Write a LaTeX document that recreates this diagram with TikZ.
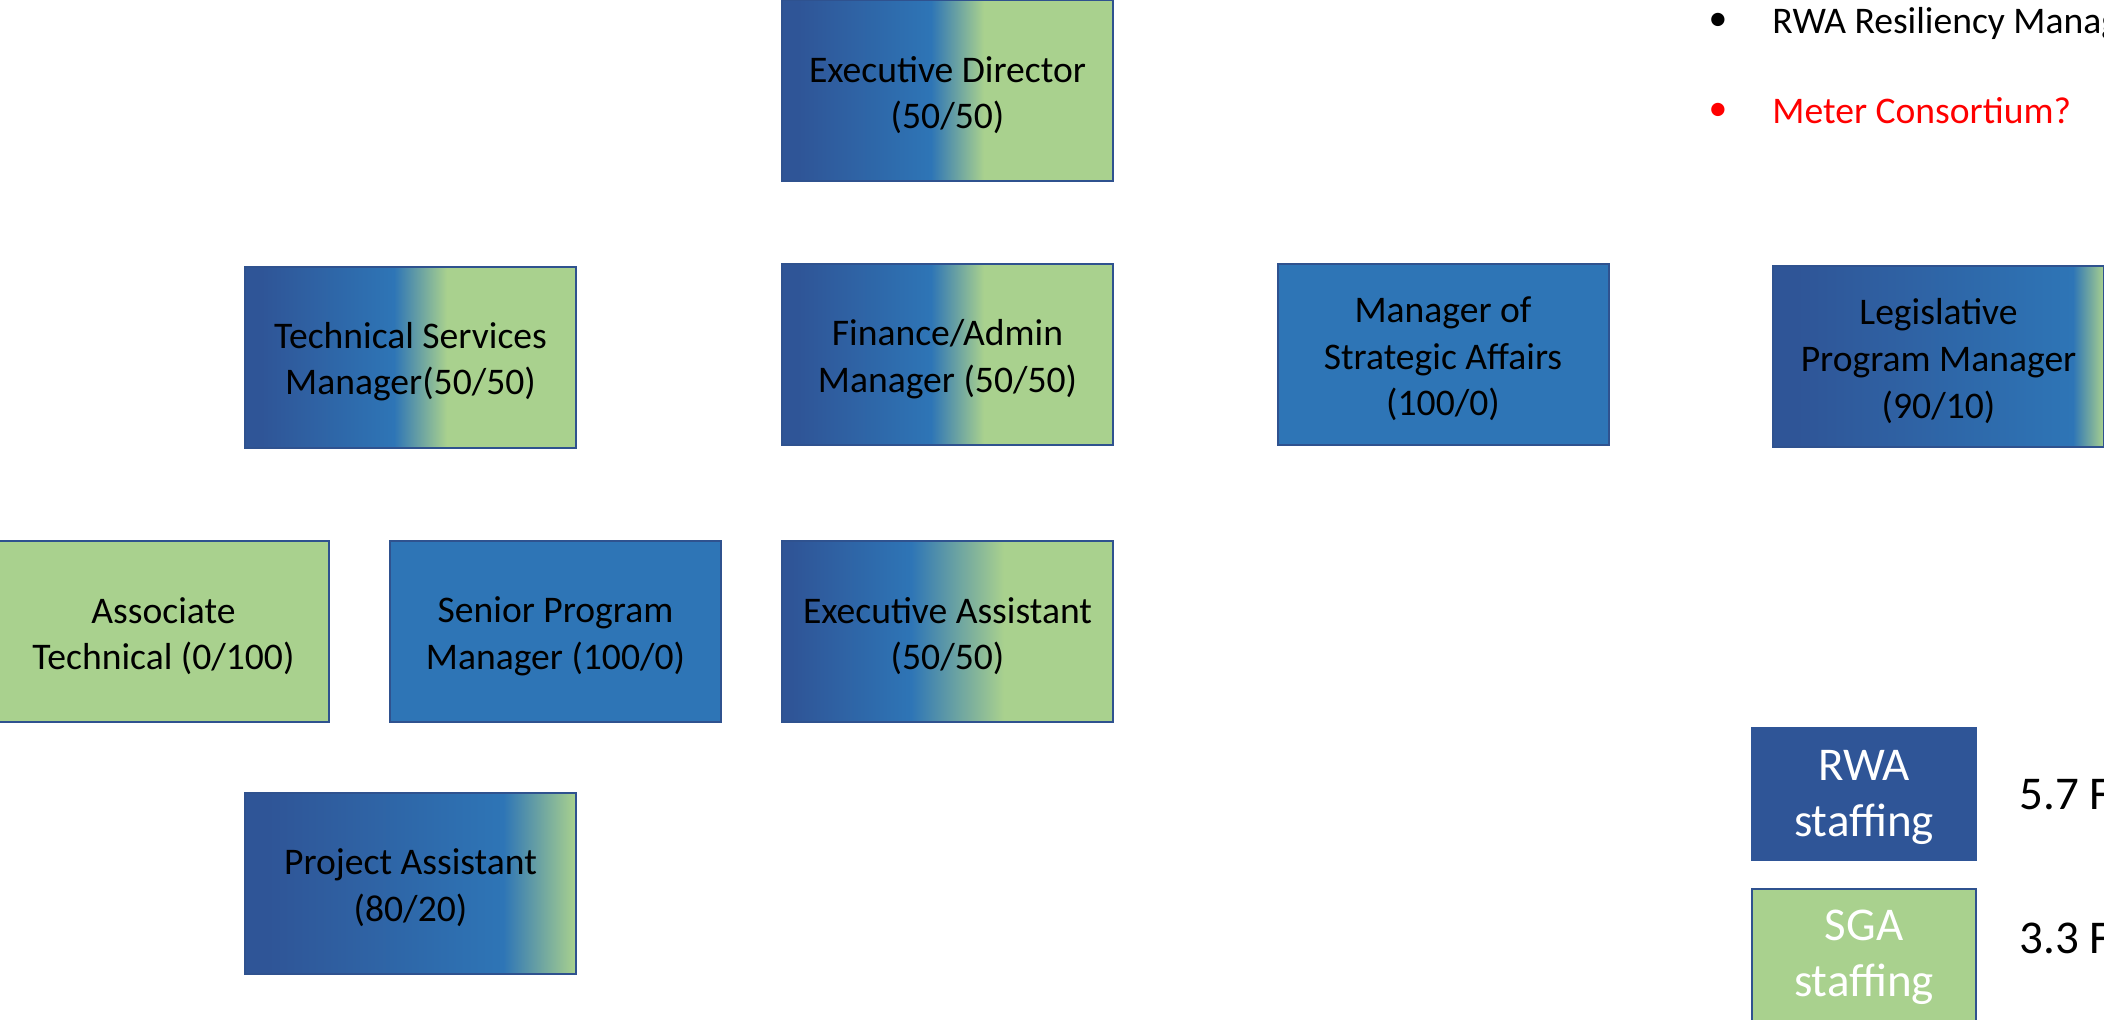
\documentclass[tikz,border=0pt]{standalone}
\usepackage{fontspec}
\setmainfont{Carlito}
\definecolor{rwadark}{HTML}{2F5597}
\definecolor{rwablue}{HTML}{2E75B6}
\definecolor{sgagreen}{HTML}{A9D18E}
\definecolor{boxline}{HTML}{2F528F}
\definecolor{alertred}{HTML}{FF0000}
% horizontal shadings: box spans 25bp..75bp
\pgfdeclarehorizontalshading{splitA}{100bp}{color(0bp)=(rwadark); color(27.5bp)=(rwadark); color(47.5bp)=(rwablue); color(55.5bp)=(sgagreen); color(100bp)=(sgagreen)}
\pgfdeclarehorizontalshading{splitB}{100bp}{color(0bp)=(rwadark); color(26.5bp)=(rwadark); color(44.5bp)=(rwablue); color(58.5bp)=(sgagreen); color(100bp)=(sgagreen)}
\pgfdeclarehorizontalshading{splitC}{100bp}{color(0bp)=(rwadark); color(28.5bp)=(rwadark); color(64bp)=(rwablue); color(75bp)=(sgagreen); color(100bp)=(sgagreen)}
\pgfdeclarehorizontalshading{splitD}{100bp}{color(0bp)=(rwadark); color(28.5bp)=(rwadark); color(70.3bp)=(rwablue); color(75bp)=(sgagreen); color(100bp)=(sgagreen)}
\tikzset{
  role/.style={draw=boxline, line width=1pt, minimum width=165.5pt, minimum height=90.5pt,
    inner sep=0pt},
  roletext/.style={inner sep=0pt, yshift=-2pt, align=center, text=black,
    font=\fontsize{18.8}{23.3}\selectfont},
  legendbox/.style={draw=boxline, line width=1pt, minimum width=112pt, minimum height=66pt,
    inner sep=0pt},
  legendlabel/.style={inner sep=0pt, yshift=-1.5pt, align=center, text=white,
    font=\fontsize{23.5}{28}\selectfont},
  legendtext/.style={anchor=base west, inner sep=0pt, font=\fontsize{23.5}{28}\selectfont},
  bullettext/.style={anchor=base west, inner sep=0pt, font=\fontsize{18.8}{23.3}\selectfont},
  bulletdot/.style={inner sep=0pt, font=\fontsize{18.8}{23.3}\selectfont},
}
\begin{document}
\begin{tikzpicture}[x=0.5pt,y=-0.5pt]
\useasboundingbox (0,0) rectangle (2104,1020);
\clip (0,0) rectangle (2104,1020);
\fill[white] (0,0) rectangle (2104,1020);

% row 1
\node[role, shading=splitA] (exec) at (947.5,91) {};
% row 2
\node[role, shading=splitA] (tech) at (410.5,357.5) {};
\node[role, shading=splitA] (fin) at (947.5,355) {};
\node[role, fill=rwablue] (strat) at (1443,355) {};
\node[role, shading=splitD] (legis) at (1938.5,357) {};
% row 3
\node[role, fill=sgagreen] (assoc) at (163.5,632) {};
\node[role, fill=rwablue] (senior) at (555.5,632) {};
\node[role, shading=splitB] (execasst) at (947.5,632) {};
% row 4
\node[role, shading=splitC] (proj) at (410.5,883.5) {};

% box texts
\node[roletext] (exec-t) at (exec.center) {Executive Director\\(50/50)};
\node[roletext] (tech-t) at (tech.center) {Technical Services\\Manager(50/50)};
\node[roletext] (fin-t) at (fin.center) {Finance/Admin\\Manager (50/50)};
\node[roletext] (strat-t) at (strat.center) {Manager of\\Strategic Affairs\\(100/0)};
\node[roletext] (legis-t) at (legis.center) {Legislative\\Program Manager\\(90/10)};
\node[roletext] (assoc-t) at (assoc.center) {Associate\\Technical (0/100)};
\node[roletext] (senior-t) at (senior.center) {Senior Program\\Manager (100/0)};
\node[roletext] (execasst-t) at (execasst.center) {Executive Assistant\\(50/50)};
\node[roletext] (proj-t) at (proj.center) {Project Assistant\\(80/20)};

% bullets
\node[bulletdot] (b1) at (1718,22) {•};
\node[bullettext] (t1) at (1772,34) {RWA Resiliency Manag};
\node[bulletdot, text=alertred] (b2) at (1718,112) {•};
\node[bullettext, text=alertred] (t2) at (1772,124) {Meter Consortium?};

% legend
\node[legendbox, fill=rwadark, draw=rwadark] (rwa) at (1864,794) {};
\node[legendbox, fill=sgagreen] (sga) at (1864,954.5) {};
\node[legendlabel] (rwa-t) at (rwa.center) {RWA\\staffing};
\node[legendlabel] (sga-t) at (sga.center) {SGA\\staffing};
\node[legendtext] (rwafte) at (2019,810) {5.7 F};
\node[legendtext] (sgafte) at (2019,953) {3.3 F};
\end{tikzpicture}
\end{document}
